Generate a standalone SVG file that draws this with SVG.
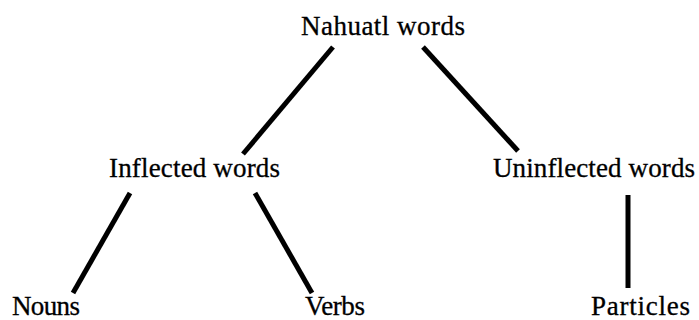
<svg xmlns="http://www.w3.org/2000/svg" width="699" height="320" viewBox="0 0 699 320">
<style>
text{font-family:"Liberation Serif","Times New Roman",serif;font-size:27px;fill:#000;stroke:#000;stroke-width:0.3}
.c line{stroke:#000;stroke-width:5;stroke-linecap:butt}
</style>
<rect width="699" height="320" fill="#fff"/>
<g class="c" id="connectors">
<line x1="333" y1="47" x2="243" y2="154"/>
<line x1="423" y1="47" x2="518" y2="151"/>
<line x1="130" y1="193" x2="73" y2="293"/>
<line x1="255" y1="193" x2="312" y2="293"/>
<line x1="628" y1="195" x2="628" y2="288"/>
</g>
<g id="root"><text x="301" y="35" textLength="164" lengthAdjust="spacing">Nahuatl  words</text></g>
<g id="inflected"><text x="109" y="177" textLength="171" lengthAdjust="spacing">Inflected words</text></g>
<g id="uninflected"><text x="493" y="177" textLength="202" lengthAdjust="spacing">Uninflected words</text></g>
<g id="nouns"><text x="12" y="315" textLength="68" lengthAdjust="spacing">Nouns</text></g>
<g id="verbs"><text x="305" y="315" textLength="60" lengthAdjust="spacing">Verbs</text></g>
<g id="particles"><text x="591" y="315" textLength="99" lengthAdjust="spacing">Particles</text></g>
</svg>
